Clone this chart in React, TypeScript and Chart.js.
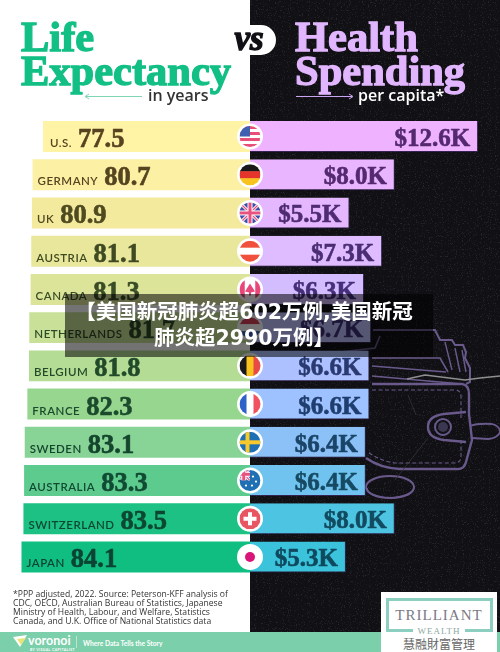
import React, { useEffect, useRef } from "react";
import { Chart, registerables } from "chart.js";

Chart.register(...registerables);

const countries = ["U.S.", "GERMANY", "UK", "AUSTRIA", "CANADA", "NETHERLANDS", "BELGIUM", "FRANCE", "SWEDEN", "AUSTRALIA", "SWITZERLAND", "JAPAN"];
const lifeExpectancy = [77.5, 80.7, 80.9, 81.1, 81.3, 81.7, 81.8, 82.3, 83.1, 83.3, 83.5, 84.1];
const healthSpending = [12.6, 8.0, 5.5, 7.3, 6.3, 6.7, 6.6, 6.6, 6.4, 6.4, 8.0, 5.3];
const lifeColors = ["#FFF3A5", "#FBF0A4", "#F4EA9E", "#E9E79C", "#DCE49A", "#C8E097", "#B5DC94", "#97D68F", "#88D497", "#5ECB8E", "#1CC183", "#10BE82"];
const spendColors = ["#EFB2FF", "#E9B5FF", "#E5B7FF", "#DFBBFF", "#D3BDFF", "#BFC0FF", "#ADC0FF", "#9DC2FF", "#8CC1F8", "#6FC3EE", "#4CC4E2", "#3BC3DC"];
const lifeText = ["#574320", "#544420", "#4F4A20", "#3F4A22", "#394C26", "#2E4A26", "#214A2A", "#1B4A2C", "#14452D", "#104A33", "#0D4733", "#0B4433"];
const spendText = ["#54296E", "#54296E", "#4F2C72", "#4A2D74", "#452F78", "#3F3278", "#2A3A70", "#1F3E6E", "#1A4468", "#164A64", "#124A60", "#10495E"];
const footnote = [
  "*PPP adjusted, 2022. Source: Peterson-KFF analysis of",
  "CDC, OECD, Australian Bureau of Statistics, Japanese",
  "Ministry of Health, Labour, and Welfare, Statistics",
  "Canada, and U.K. Office of National Statistics data",
];

const VALUE_FONT = '"Liberation Serif", serif';
const SANS = 'Lato, "Open Sans", sans-serif';

type Ctx = CanvasRenderingContext2D;
const stripesH = (c: Ctx, x: number, y: number, r: number, cols: string[]) => {
  const h = (2 * r) / cols.length;
  cols.forEach((col, i) => { c.fillStyle = col; c.fillRect(x - r, y - r + i * h, 2 * r, h + 0.5); });
};
const stripesV = (c: Ctx, x: number, y: number, r: number, cols: string[]) => {
  const w = (2 * r) / cols.length;
  cols.forEach((col, i) => { c.fillStyle = col; c.fillRect(x - r + i * w, y - r, w + 0.5, 2 * r); });
};
const cross = (c: Ctx, x: number, y: number, r: number, col: string, t: number) => {
  c.fillStyle = col;
  c.fillRect(x - r, y - t / 2, 2 * r, t);
  c.fillRect(x - t / 2, y - r, t, 2 * r);
};
const union = (c: Ctx, x: number, y: number, r: number) => {
  c.fillStyle = "#3F4FA8"; c.fillRect(x - r, y - r, 2 * r, 2 * r);
  c.strokeStyle = "#fff"; c.lineWidth = 3;
  c.beginPath(); c.moveTo(x - r, y - r); c.lineTo(x + r, y + r); c.moveTo(x + r, y - r); c.lineTo(x - r, y + r); c.stroke();
  c.strokeStyle = "#E8527F"; c.lineWidth = 1.2;
  c.beginPath(); c.moveTo(x - r, y - r); c.lineTo(x + r, y + r); c.moveTo(x + r, y - r); c.lineTo(x - r, y + r); c.stroke();
  cross(c, x, y, r, "#fff", 5);
  cross(c, x, y, r, "#E8527F", 3);
};
const flags: Record<string, (c: Ctx, x: number, y: number, r: number) => void> = {
  "U.S.": (c, x, y, r) => {
    stripesH(c, x, y, r, ["#E84F78", "#fff", "#E84F78", "#fff", "#E84F78", "#fff", "#E84F78"]);
    c.fillStyle = "#3F5FB0"; c.fillRect(x - r, y - r, r, r);
  },
  GERMANY: (c, x, y, r) => stripesH(c, x, y, r, ["#1A1A1A", "#E5342B", "#F9C31F"]),
  UK: (c, x, y, r) => union(c, x, y, r),
  AUSTRIA: (c, x, y, r) => stripesH(c, x, y, r, ["#F0503C", "#fff", "#F0503C"]),
  CANADA: (c, x, y, r) => {
    stripesV(c, x, y, r, ["#E8477A", "#fff", "#fff", "#E8477A"]);
    c.fillStyle = "#E8477A"; c.beginPath();
    c.moveTo(x, y - 6); c.lineTo(x + 5, y + 2); c.lineTo(x + 1, y + 3); c.lineTo(x + 1, y + 6);
    c.lineTo(x - 1, y + 6); c.lineTo(x - 1, y + 3); c.lineTo(x - 5, y + 2); c.closePath(); c.fill();
  },
  NETHERLANDS: (c, x, y, r) => stripesH(c, x, y, r, ["#D6405A", "#fff", "#3A5FB0"]),
  BELGIUM: (c, x, y, r) => stripesV(c, x, y, r, ["#1A1A1A", "#F9C31F", "#E84A45"]),
  FRANCE: (c, x, y, r) => stripesV(c, x, y, r, ["#2F62C8", "#fff", "#F0505F"]),
  SWEDEN: (c, x, y, r) => {
    c.fillStyle = "#1F6FB5"; c.fillRect(x - r, y - r, 2 * r, 2 * r);
    c.fillStyle = "#F9C92B"; c.fillRect(x - r, y - 2, 2 * r, 4); c.fillRect(x - 4.5, y - r, 4, 2 * r);
  },
  AUSTRALIA: (c, x, y, r) => {
    c.fillStyle = "#1F6FB5"; c.fillRect(x - r, y - r, 2 * r, 2 * r);
    c.save(); c.beginPath(); c.rect(x - r, y - r, r, r); c.clip(); union(c, x - r / 2 - 1, y - r / 2 - 1, r / 2 + 1); c.restore();
    c.fillStyle = "#fff";
    [[3, -4], [6, 1], [2, 5], [-4, 5]].forEach(([dx, dy]) => { c.beginPath(); c.arc(x + dx, y + dy, 1.1, 0, 7); c.fill(); });
  },
  SWITZERLAND: (c, x, y, r) => {
    c.fillStyle = "#E85563"; c.fillRect(x - r, y - r, 2 * r, 2 * r);
    cross(c, x, y, 6.5, "#fff", 4);
  },
  JAPAN: (c, x, y, r) => {
    c.fillStyle = "#fff"; c.fillRect(x - r, y - r, 2 * r, 2 * r);
    c.fillStyle = "#D9157A"; c.beginPath(); c.arc(x, y, 5, 0, 7); c.fill();
  },
};

const butterflyPlugin = {
  id: "butterfly",
  afterDatasetsDraw(chart: any) {
    const c: Ctx = chart.ctx;
    const y = chart.scales.y, left = chart.scales.xL, right = chart.scales.xR;
    const cx = right.getPixelForValue(0);
    c.save();
    countries.forEach((name, i) => {
      const py = y.getPixelForValue(i);
      const baseY = py + 10.5;
      const startX = left.getPixelForValue(lifeExpectancy[i]) + (i === 0 ? 7 : 5);
      c.textBaseline = "alphabetic";
      c.textAlign = "left";
      c.lineJoin = "round";
      c.fillStyle = lifeText[i];
      c.strokeStyle = lifeText[i];
      c.font = `600 11.5px ${SANS}`;
      (c as any).letterSpacing = "0.5px";
      c.fillText(name, startX, baseY);
      const w = c.measureText(name).width;
      (c as any).letterSpacing = "0px";
      c.font = `bold 26.5px ${VALUE_FONT}`;
      c.lineWidth = 0.6;
      const lifeLabel = lifeExpectancy[i].toFixed(1);
      c.fillText(lifeLabel, startX + w + 6, baseY);
      c.strokeText(lifeLabel, startX + w + 6, baseY);
      c.textAlign = "right";
      c.fillStyle = spendText[i];
      c.strokeStyle = spendText[i];
      c.font = `bold 25px ${VALUE_FONT}`;
      const spendLabel = `$${healthSpending[i].toFixed(1)}K`;
      const rx = right.getPixelForValue(healthSpending[i]) - 8;
      c.fillText(spendLabel, rx, py + 9.5);
      c.strokeText(spendLabel, rx, py + 9.5);
      c.fillStyle = "#fff";
      c.beginPath(); c.arc(cx, py, 13, 0, Math.PI * 2); c.fill();
      c.save();
      c.beginPath(); c.arc(cx, py, 10.5, 0, Math.PI * 2); c.clip();
      flags[name](c, cx, py, 10.5);
      c.restore();
    });
    c.restore();
  },
};

const abs = (o: React.CSSProperties): React.CSSProperties => ({ position: "absolute", whiteSpace: "nowrap", ...o });
const titleFont: React.CSSProperties = { fontFamily: VALUE_FONT, fontWeight: 700, fontSize: 42.5, lineHeight: "42px", WebkitTextStroke: "1.3px currentColor" as any };
const subFont: React.CSSProperties = { fontFamily: '"Open Sans", sans-serif', fontSize: 16, fontWeight: 600, lineHeight: "18px" };

export default function App() {
  const ref = useRef<HTMLCanvasElement>(null);
  useEffect(() => {
    document.body.style.margin = "0";
    const chart = new Chart(ref.current!, {
      type: "bar",
      data: {
        labels: countries,
        datasets: [
          { label: "Life expectancy", data: lifeExpectancy, xAxisID: "xL", backgroundColor: lifeColors, base: 14, grouped: false, categoryPercentage: 1, barPercentage: 0.81 } as any,
          { label: "Health spending", data: healthSpending, xAxisID: "xR", backgroundColor: spendColors, borderColor: "rgba(80,50,130,0.55)", borderWidth: { top: 0, left: 0, right: 1, bottom: 1 }, borderSkipped: false, grouped: false, categoryPercentage: 1, barPercentage: 0.81 } as any,
        ],
      },
      options: {
        indexAxis: "y",
        animation: false,
        responsive: false,
        layout: { padding: { top: 117.4, bottom: 75.9, left: 0, right: 0 } },
        plugins: { legend: { display: false }, tooltip: { enabled: false }, title: { display: false } },
        scales: {
          y: { type: "category", display: false, offset: true, grid: { display: false } },
          xL: { type: "linear", display: false, reverse: true, min: -62.69, max: 90.69, grid: { display: false } },
          xR: { type: "linear", display: false, min: -13.81, max: 13.81, grid: { display: false } },
        },
      },
      plugins: [butterflyPlugin],
    });
    return () => chart.destroy();
  }, []);

  return (
    <div style={{ position: "absolute", left: 0, top: 0, width: 500, height: 652, overflow: "hidden", background: "#fff", fontFamily: SANS }}>
      <div style={abs({ left: 250, top: 0, width: 250, height: 652, background: "#101015" })} />
      <svg width={500} height={652} style={{ position: "absolute", left: 0, top: 0 }} fill="none" stroke="#6A5A8C" strokeWidth={2}>
        <defs>
          <filter id="speck" x="0" y="0" width="100%" height="100%">
            <feTurbulence type="fractalNoise" baseFrequency="0.85" numOctaves="2" seed="4" />
            <feColorMatrix values="0 0 0 0 1  0 0 0 0 1  0 0 0 0 1  0 0 0 7 -4.2" />
          </filter>
        </defs>
        <rect x={250} y={0} width={250} height={632} filter="url(#speck)" opacity={0.09} stroke="none" fill="#fff" />
        <path d="M373 330 L435 330 L440 340 L452 340 L455 345 L463 345 L466 352 L465 358 L470 368 L470 382 L466 384" />
        <path d="M340 352 L375 348 L380 336 M372 358 L440 358 L448 372 M372 366 L446 372 M372 376 L462 384" strokeWidth={1.6} />
        <path d="M445 342 L452 370 M455 348 L460 372 M462 350 L466 372" strokeWidth={1.4} />
        <path d="M372 384 L462 384 Q469 385 469 394 L469 414 L472 440 L466 462 Q464 470 456 469 L400 469 Q380 468 366 458" strokeWidth={2.4} />
        <path d="M372 390 L455 390 Q461 390 461 397 L461 418 M461 440 L461 458 Q460 463 454 463 L395 463 Q380 461 368 452" strokeWidth={1.1} strokeDasharray="4 2.5" />
        <path d="M466 412 L444 414 Q428 416 428 427 Q428 438 444 440 L466 442" strokeWidth={2.4} />
        <circle cx={443} cy={427} r={8} strokeWidth={2} />
        <circle cx={443} cy={427} r={5} fill="#3C3750" stroke="none" />
        <path d="M470 426 Q478 423 492 424 Q500 426 500 432 Q498 438 488 439 L472 438" strokeWidth={1.8} />
        <ellipse cx={390} cy={487} rx={24} ry={11} />
        <path d="M367 488 Q368 497 390 498 Q412 497 414 488" strokeWidth={1.5} />
        <path d="M407 379 L425 375 L465 380 L480 378 L500 376" stroke="#8F8F8F" strokeWidth={1.6} />
        <path d="M428 438 L395 480 M408 395 L416 415" stroke="#33333A" strokeWidth={0.8} />
      </svg>
      <canvas ref={ref} width={500} height={652} style={{ position: "absolute", left: 0, top: 0, display: "block" }} />

      <div style={abs({ left: 21, top: 16, color: "#12BF85", ...titleFont })}>Life</div>
      <div style={abs({ left: 21, top: 50, color: "#12BF85", ...titleFont })}>Expectancy</div>
      <div style={abs({ left: 295, top: 16, color: "#E2B6FF", ...titleFont })}>Health</div>
      <div style={abs({ left: 295, top: 50, color: "#E2B6FF", ...titleFont })}>Spending</div>
      <div style={abs({ left: 232, top: 25, width: 44, height: 30, background: "#fff", borderRadius: 15 })} />
      <div style={abs({ left: 227, top: 20, width: 44, textAlign: "center", color: "#101015", fontFamily: VALUE_FONT, fontStyle: "italic", fontWeight: 700, fontSize: 35, lineHeight: "38px", WebkitTextStroke: "1.4px #101015" as any })}>vs</div>

      <svg width={500} height={110} style={{ position: "absolute", left: 0, top: 0 }} fill="none">
        <path d="M142 96.5 L86 96.5 M89 94 L85 96.5 L89 99" stroke="#7FD6B4" strokeWidth={1} />
        <path d="M296 96.5 L352 96.5 M349 94 L353 96.5 L349 99" stroke="#C9A4F0" strokeWidth={1} />
      </svg>
      <div style={abs({ left: 148, top: 86, color: "#333", ...subFont })}>in years</div>
      <div style={abs({ left: 358, top: 86, color: "#fff", ...subFont })}>per capita*</div>

      <div style={abs({ left: 13, top: 589.5, color: "#333", fontFamily: '"Open Sans", sans-serif', fontSize: 8.6, lineHeight: "9px" })}>
        {footnote.map((l) => <div key={l}>{l}</div>)}
      </div>

      <div style={abs({ left: 0, top: 632, width: 500, height: 20, background: "#7BCFAB" })} />
      <svg width={30} height={20} style={{ position: "absolute", left: 10, top: 632 }}>
        <path d="M3 5 L17 3 L10 15 Z" fill="#fff" />
        <path d="M7 7 L16 6 L11 13 Z" fill="#E8E47A" />
      </svg>
      <div style={abs({ left: 28, top: 633, color: "#fff", fontFamily: SANS, fontWeight: 700, fontSize: 12.5, lineHeight: "16px" })}>voronoi</div>
      <div style={abs({ left: 30, top: 647.5, color: "#fff", fontFamily: SANS, fontWeight: 700, fontSize: 3.5, lineHeight: "4px", letterSpacing: 0.4 })}>BY VISUAL CAPITALIST</div>
      <div style={abs({ left: 76, top: 636, width: 1, height: 12, background: "#BDE6D2" })} />
      <div style={abs({ left: 83, top: 639, color: "#fff", fontWeight: 700, fontSize: 6.7, lineHeight: "8px" })}>Where Data Tells the Story</div>

      <div style={abs({ left: 381, top: 592, width: 116, height: 60, background: "#fff" })}>
        <div style={abs({ left: 5, top: 6, width: 101, height: 31, border: "3px solid #8CCFC0", borderBottom: "none" })} />
        <div style={abs({ left: 0, top: 12, width: 116, textAlign: "center", color: "#7A7A85", fontFamily: VALUE_FONT, fontSize: 15, lineHeight: "22px", letterSpacing: 1 })}>TRILLIANT</div>
        <div style={abs({ left: 5, top: 37, width: 27, height: 3, background: "#8CCFC0" })} />
        <div style={abs({ left: 84, top: 37, width: 28, height: 3, background: "#8CCFC0" })} />
        <div style={abs({ left: 0, top: 33, width: 116, textAlign: "center", color: "#8CA8A0", fontFamily: VALUE_FONT, fontSize: 9, lineHeight: "12px", letterSpacing: 1 })}>WEALTH</div>
        <div style={abs({ left: 0, top: 44, width: 116, textAlign: "center", color: "#666", fontFamily: '"Noto Sans CJK TC", sans-serif', fontSize: 12, lineHeight: "16px" })}>慧融財富管理</div>
      </div>

      <div style={abs({ left: 65, top: 294, width: 368, height: 63, background: "rgba(0,0,0,0.55)" })} />
      <div style={abs({ left: 69, top: 299, width: 350, textAlign: "center", color: "#fff", fontFamily: '"DejaVu Sans", "Noto Sans CJK SC", sans-serif', fontWeight: 700, fontSize: 20.5, lineHeight: "26px", whiteSpace: "normal" })}>
        【美国新冠肺炎超602万例,美国新冠肺炎超2990万例】
      </div>
    </div>
  );
}
